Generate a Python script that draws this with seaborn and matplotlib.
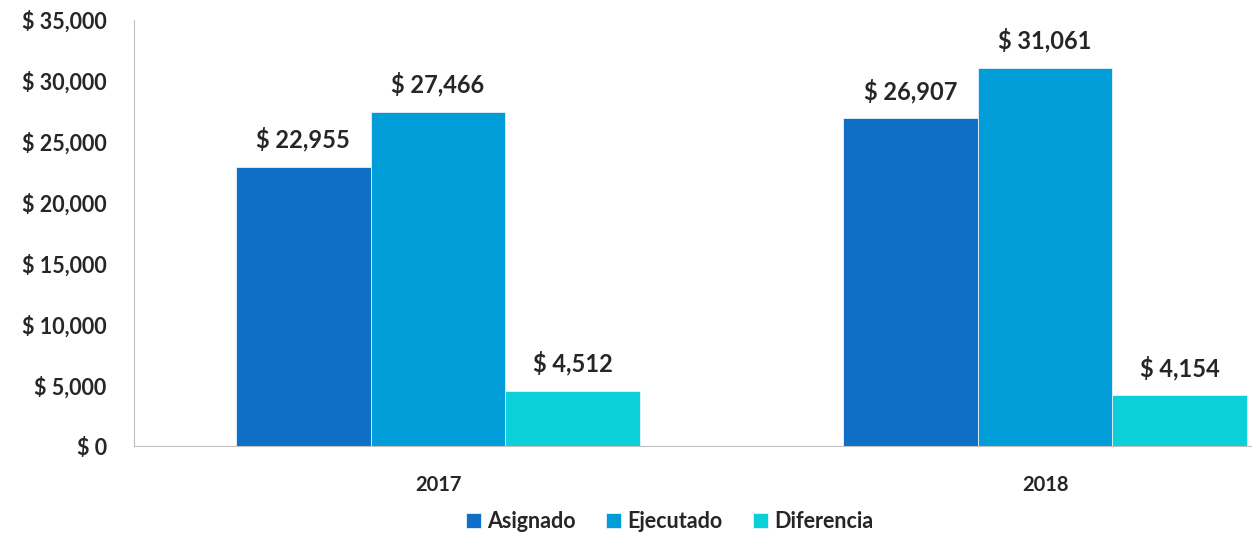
import pandas as pd
import matplotlib
matplotlib.use('Agg')
import matplotlib.pyplot as plt
import matplotlib.ticker as mticker
import seaborn as sns

# data
years = ['2017', '2018']
series = ['Asignado', 'Ejecutado', 'Diferencia']
asignado = [22955, 26907]
ejecutado = [27466, 31061]
diferencia = [4512, 4154]
colors = ['#0F6FC6', '#009DD9', '#0BD0D9']

df = pd.DataFrame({
    'year': years * 3,
    'serie': [s for s in series for _ in years],
    'valor': asignado + ejecutado + diferencia,
})

sns.set_style('white')
plt.rcParams['font.family'] = ['Lato', 'DejaVu Sans']
plt.rcParams['font.weight'] = 'bold'

fig = plt.figure(figsize=(12.52, 5.38), dpi=100)
ax = fig.add_axes([0.1074, 0.171, 0.8926, 0.792])

sns.barplot(data=df, x='year', y='valor', hue='serie', hue_order=series,
            palette=colors, width=0.666, gap=0, saturation=1,
            edgecolor='#e8f2fa', linewidth=0.6, ax=ax, legend=True)

for cont in ax.containers:
    ax.bar_label(cont, labels=['$ {:,.0f}'.format(v) for v in cont.datavalues],
                 padding=11, fontsize=17, fontweight='bold', color='#262626')

ax.set_ylim(0, 35000)
ax.set_xlim(-0.5, 1.341)
ax.yaxis.set_major_locator(mticker.MultipleLocator(5000))
ax.yaxis.set_major_formatter(mticker.FuncFormatter(lambda v, p: '$ {:,.0f}'.format(v)))
ax.tick_params(axis='y', labelsize=15.5, length=0, pad=20, labelcolor='#262626')
ax.tick_params(axis='x', labelsize=14.5, length=0, pad=21, labelcolor='#262626')
ax.set_xlabel('')
ax.set_ylabel('')

for side in ['top', 'right']:
    ax.spines[side].set_visible(False)
ax.spines['left'].set_color('#bfbfbf')
ax.spines['bottom'].set_color('#bfbfbf')

ax.legend(handles=ax.get_legend_handles_labels()[0], labels=series,
          loc='center', bbox_to_anchor=(0.479, -0.178), ncol=3, frameon=False,
          prop={'weight': 'bold', 'size': 15.5}, handlelength=0.7, handleheight=0.7,
          handletextpad=0.3, columnspacing=1.4, labelcolor='#262626')

fig.savefig('out.png', dpi=100)
